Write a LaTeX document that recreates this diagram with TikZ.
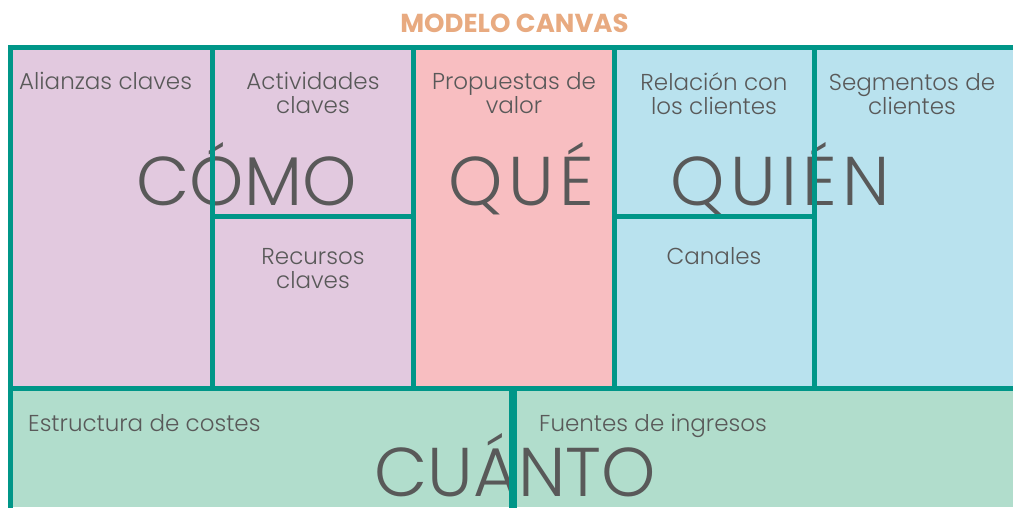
\documentclass[tikz,border=0pt]{standalone}
\usepackage{fontspec}
\setmainfont{Poppins}[UprightFont=* Light, BoldFont=* Bold]
\newfontfamily\widebig{Poppins Light}[LetterSpace=8]
\definecolor{teal}{HTML}{009688}
\definecolor{lila}{HTML}{E2C9DF}
\definecolor{rosa}{HTML}{F8BEC1}
\definecolor{celeste}{HTML}{B9E2EE}
\definecolor{verde}{HTML}{B1DDCC}
\definecolor{gris}{HTML}{595959}
\definecolor{salmon}{HTML}{E8AA80}
\tikzset{
  grid line/.style={draw=teal, line width=5pt},
  label txt/.style={text=gris, inner sep=0pt, align=center, font=\fontsize{23}{24}\selectfont},
  big txt/.style={text=gris, inner sep=0pt, anchor=base, font=\fontsize{69}{72}\selectfont},
  wide txt/.style={big txt, font=\widebig\fontsize{69}{72}\selectfont},
  title txt/.style={text=salmon, inner sep=0pt, anchor=base, font=\fontsize{26}{28}\selectfont\bfseries}
}
\begin{document}
\begin{tikzpicture}[x=1pt, y={(0pt,-1pt)}]
\useasboundingbox (0,0) rectangle (1013,507);
% fills
\fill[lila] (10,47) rectangle (413.5,388.5);
\fill[rosa] (413.5,47) rectangle (614,388.5);
\fill[celeste] (614,47) rectangle (1013,388.5);
\fill[verde] (10,388.5) rectangle (1013,507);
% title
\node[title txt] (title) at (514.5,32) {MODELO CANVAS};
% labels (anchor=base is the baseline of the last line)
\node[label txt, anchor=base west] (ali) at (19,89) {Alianzas claves};
\node[label txt, anchor=base] (act) at (313,113) {Actividades\\claves};
\node[label txt, anchor=base] (pro) at (514,113) {Propuestas de\\valor};
\node[label txt, anchor=base] (rel) at (714,114) {Relación con\\los clientes};
\node[label txt, anchor=base] (seg) at (912,114) {Segmentos de\\clientes};
\node[label txt, anchor=base] (rec) at (313,288) {Recursos\\claves};
\node[label txt, anchor=base] (can) at (714,264) {Canales};
\node[label txt, anchor=base west] (est) at (28,431) {Estructura de costes};
\node[label txt, anchor=base west] (fue) at (539,431) {Fuentes de ingresos};
% big words
\node[big txt] (como) at (246.5,205) {CÓMO};
\node[wide txt, anchor=base west] (que) at (448,205) {QUÉ};
\node[wide txt, anchor=base west] (quien) at (670,205) {QUIÉN};
\node[big txt] (cuanto) at (515,496) {CUÁNTO};
% grid lines
\draw[grid line] (10,510) -- (10,47) -- (1016,47);
\draw[grid line] (212.5,47) -- (212.5,388.5);
\draw[grid line] (413.5,47) -- (413.5,388.5);
\draw[grid line] (614,47) -- (614,388.5);
\draw[grid line] (814.5,47) -- (814.5,388.5);
\draw[grid line] (212.5,216) -- (413.5,216);
\draw[grid line] (614,216) -- (814.5,216);
\draw[grid line] (10,388.5) -- (1016,388.5);
\draw[draw=teal, line width=8pt] (513,388.5) -- (513,510);
\end{tikzpicture}
\end{document}
